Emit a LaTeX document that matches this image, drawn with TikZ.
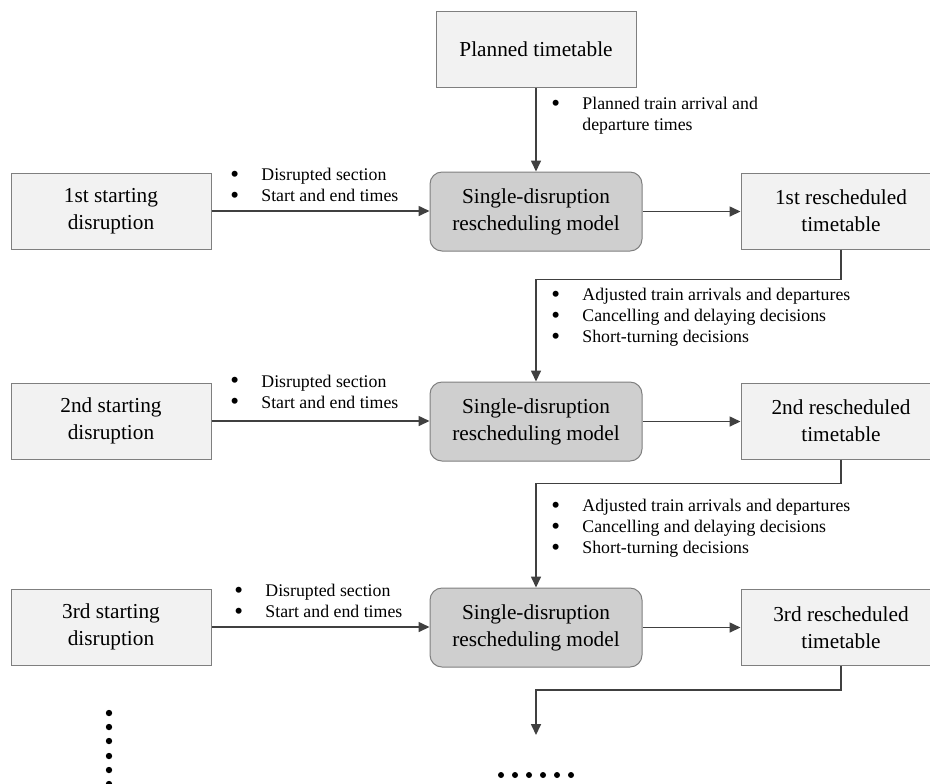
\documentclass[tikz,border=0pt]{standalone}
\usepackage{fontspec}
\setmainfont{Liberation Serif}
\usepackage{tikz}
\usetikzlibrary{arrows.meta}
\usepackage{xcolor}

\definecolor{linegray}{HTML}{404040}
\definecolor{boxborder}{HTML}{7F7F7F}
\definecolor{boxfill}{HTML}{F2F2F2}
\definecolor{modelfill}{HTML}{CFCFCF}
\newcommand{\bitem}{\makebox[15.5pt][l]{\smash{\raisebox{-0.9pt}{\fontsize{12.5}{12.5}\selectfont\textbullet}}}}

\begin{document}
\begin{tikzpicture}[x=0.5pt, y=-0.5pt,
        box/.style={draw=boxborder, fill=boxfill, line width=0.5pt, minimum width=100pt, minimum height=38pt, align=center, font=\fontsize{10.65}{13.5}\selectfont},
        model/.style={box, fill=modelfill, rounded corners=6pt, minimum width=106pt, minimum height=39.5pt},
        note/.style={anchor=west, align=left, inner sep=0pt, font=\fontsize{8.9}{10.5}\selectfont},
        flow/.style={draw=linegray, line width=0.8pt, -{Triangle[length=5.5pt, width=5pt]}}]
        \useasboundingbox (0,0) rectangle (930,783);
        \clip (0,0) rectangle (930,783);
        % top
        \node[box] (plan) at (536,49.5) {Planned timetable};
        \node[note] (plannote) at (551,116) {\bitem Planned train arrival and\\\hspace*{15.5pt}departure times};
        % row 1
        \node[box] (start1) at (111,211) {1st starting\\disruption};
        \node[model] (model1) at (536,211.5) {Single-disruption\\rescheduling model};
        \node[box] (resch1) at (841,211) {1st rescheduled\\timetable};
        \node[note] (startnote1) at (230,185) {\bitem Disrupted section\\\bitem Start and end times};
        \node[note] (carry1) at (551,317.5) {\bitem Adjusted train arrivals and departures\\\bitem Cancelling and delaying decisions\\\bitem Short-turning decisions};
        % row 2
        \node[box] (start2) at (111,421) {2nd starting\\disruption};
        \node[model] (model2) at (536,421.5) {Single-disruption\\rescheduling model};
        \node[box] (resch2) at (841,421) {2nd rescheduled\\timetable};
        \node[note] (startnote2) at (230,391.5) {\bitem Disrupted section\\\bitem Start and end times};
        \node[note] (carry2) at (551,528) {\bitem Adjusted train arrivals and departures\\\bitem Cancelling and delaying decisions\\\bitem Short-turning decisions};
        % row 3
        \node[box] (start3) at (111,627) {3rd starting\\disruption};
        \node[model] (model3) at (536,627.5) {Single-disruption\\rescheduling model};
        \node[box] (resch3) at (841,627.5) {3rd rescheduled\\timetable};
        \node[note] (startnote3) at (234,601) {\bitem Disrupted section\\\bitem Start and end times};
        \coordinate (more) at (536,735);
        % connectors
        \draw[flow] (plan.south) -- (model1.north);
        \draw[flow] (start1.east) -- (start1.east -| model1.west);
        \draw[flow] (model1.east) -- (model1.east -| resch1.west);
        \draw[flow] (resch1.south) -- ++(0,30) -| (model2.north);
        \draw[flow] (start2.east) -- (start2.east -| model2.west);
        \draw[flow] (model2.east) -- (model2.east -| resch2.west);
        \draw[flow] (resch2.south) -- ++(0,24) -| (model3.north);
        \draw[flow] (start3.east) -- (start3.east -| model3.west);
        \draw[flow] (model3.east) -- (model3.east -| resch3.west);
        \draw[flow] (resch3.south) -- ++(0,24) -| (more);
        % dots
        \foreach \y in {713,727,741,756,770,784} \fill (109,\y) circle (1.6pt);
        \foreach \x in {501,515,529,543,557,571} \fill (\x,775) circle (1.5pt);
    \end{tikzpicture}
\end{document}
